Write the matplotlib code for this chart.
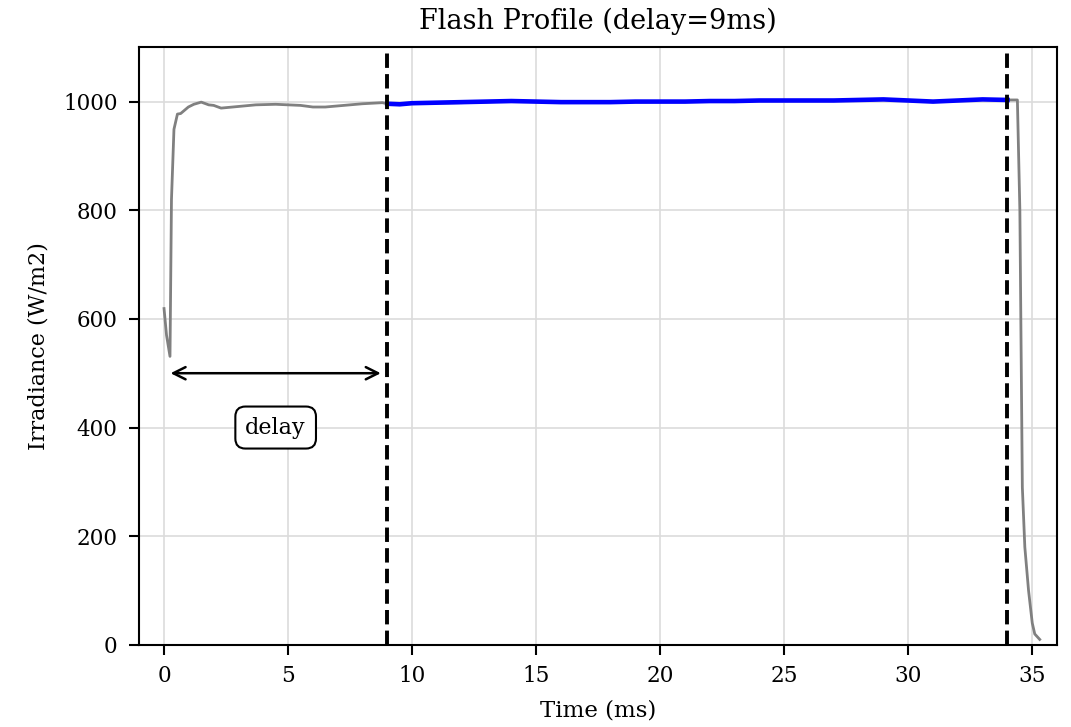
import matplotlib
matplotlib.use("Agg")
import matplotlib.pyplot as plt
import numpy as np

plt.rcParams['font.family'] = ['DejaVu Serif']

# full flash profile (gray)
t_all = [0.0, 0.1, 0.24, 0.3, 0.4, 0.54, 0.67, 0.98, 1.2, 1.5, 1.8, 2.0, 2.3, 3.0, 3.7,
         4.5, 5.0, 5.5, 6.0, 6.5, 7.0, 7.5, 8.0, 8.8, 9.0, 10.0, 12.0, 14.0, 16.0,
         18.0, 20.0, 22.0, 24.0, 26.0, 28.0, 29.0, 30.0, 31.0, 32.0, 33.0, 34.0,
         34.4, 34.5, 34.6, 34.7, 34.85, 35.0, 35.1, 35.3]
irr_all = [619, 570, 531, 820, 949, 977, 978, 990, 995, 999, 994, 993, 988, 991, 994,
           995, 994, 993, 990, 990, 992, 994, 996, 998, 996, 997, 998, 1001, 999,
           999, 1000, 1000, 1002, 1002, 1002, 1004, 1002, 1000, 1002, 1004, 1003,
           1003, 800, 290, 180, 100, 40, 20, 10]

# measurement window (blue)
t_win = [9.0, 9.5, 10.0, 11.0, 12.0, 13.0, 14.0, 15.0, 16.0, 17.0, 18.0, 19.0, 20.0,
         21.0, 22.0, 23.0, 24.0, 25.0, 26.0, 27.0, 28.0, 29.0, 30.0, 31.0, 32.0,
         33.0, 34.0]
irr_win = [996, 995, 997, 998, 999, 1000, 1001, 1000, 999, 999, 999, 1000, 1000,
           1000, 1001, 1001, 1002, 1002, 1002, 1002, 1003, 1004, 1002, 1000, 1002,
           1004, 1003]

delay = 9
t_end = 34

fig = plt.figure(figsize=(10.71, 7.27), dpi=100)
ax = fig.add_axes([0.130, 0.113, 0.857, 0.822])

ax.grid(True, color='#dcdcdc', linewidth=1.2)
ax.set_axisbelow(True)
ax.plot(t_all, irr_all, color='gray', linewidth=2)
ax.plot(t_win, irr_win, color='blue', linewidth=3.3)
ax.axvline(delay, color='black', linestyle='--', linewidth=2.8)
ax.axvline(t_end, color='black', linestyle='--', linewidth=2.8)

ax.annotate('', xy=(delay - 0.15, 500), xytext=(0.15, 500),
            arrowprops=dict(arrowstyle='<->', color='black', lw=1.8, mutation_scale=22))
ax.text(delay / 2, 400, 'delay', ha='center', va='center', fontsize=16,
        bbox=dict(boxstyle='round,pad=0.45', facecolor='white', edgecolor='black', linewidth=1.5))

ax.set_xlim(-1, 36)
ax.set_ylim(0, 1100)
ax.set_xticks([0, 5, 10, 15, 20, 25, 30, 35])
ax.set_yticks([0, 200, 400, 600, 800, 1000])
ax.tick_params(labelsize=15.5, width=1.5, length=7.5)
ax.tick_params(axis='x', pad=7)
ax.tick_params(axis='y', pad=8)
for s in ax.spines.values():
    s.set_linewidth(1.5)
ax.set_xlabel('Time (ms)', fontsize=16.5, labelpad=9)
ax.set_ylabel('Irradiance (W/m2)', fontsize=16, labelpad=10)
ax.set_title('Flash Profile (delay=9ms)', fontsize=19.5, pad=13)

fig.savefig('out.png', dpi=100)
